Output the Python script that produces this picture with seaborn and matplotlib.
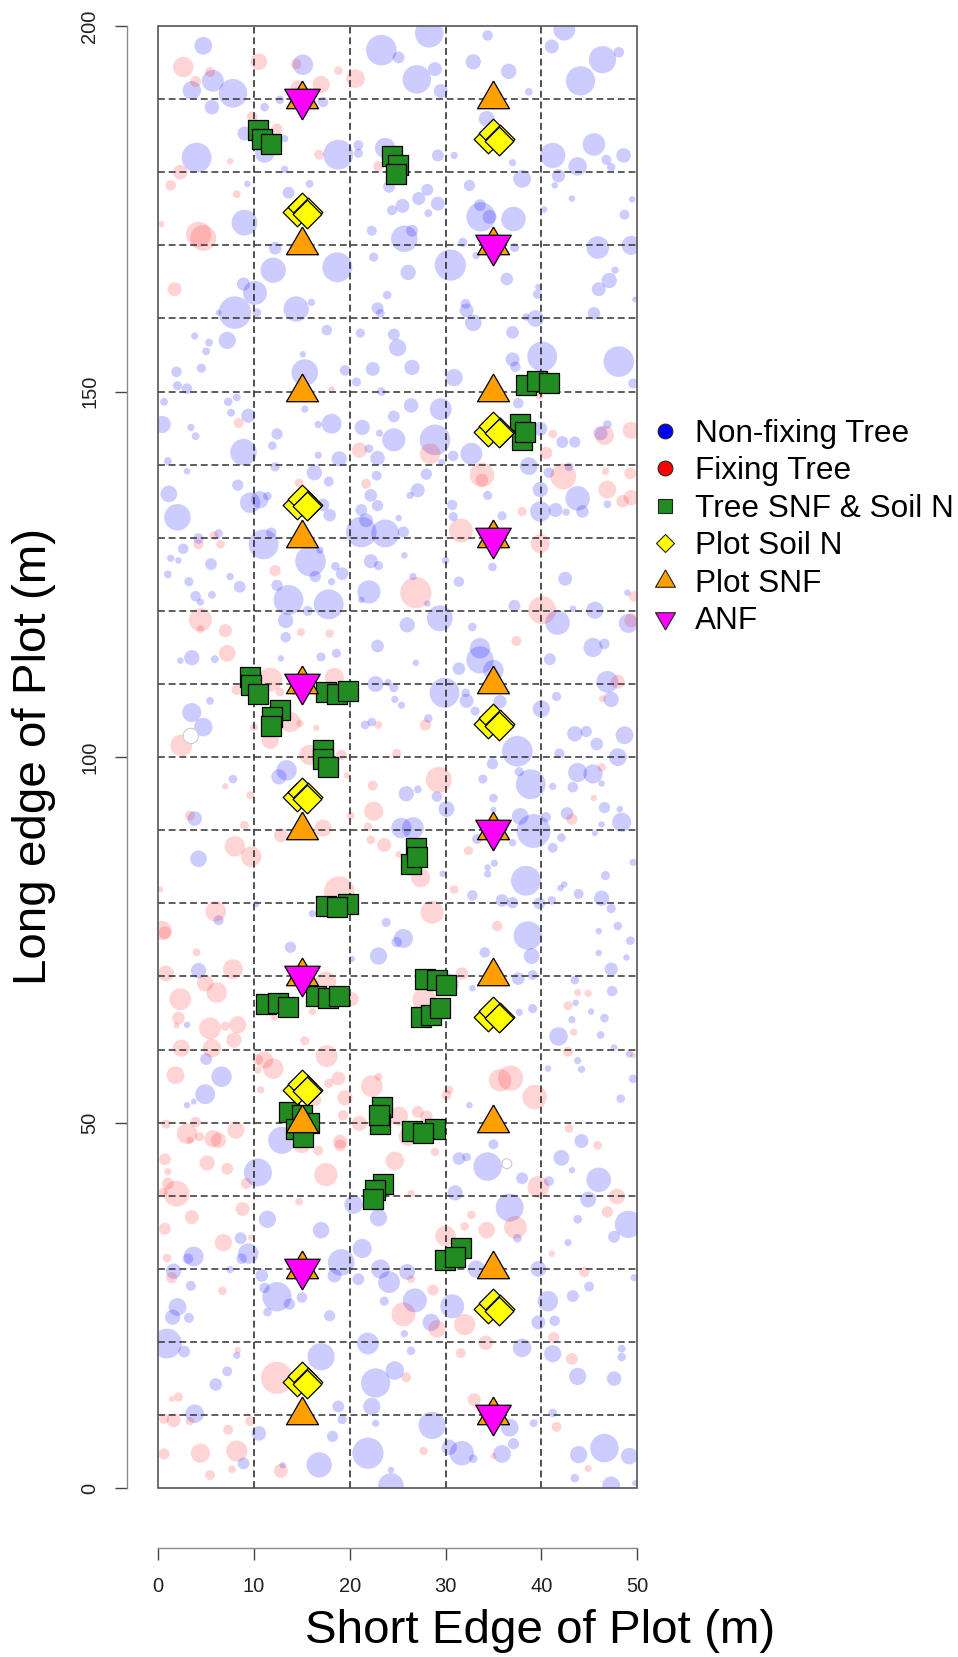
import numpy as np
import pandas as pd
import matplotlib
matplotlib.use("Agg")
import matplotlib.pyplot as plt
from matplotlib.lines import Line2D
from matplotlib.patches import Rectangle
import seaborn as sns

# ====== Background trees: (short edge m, long edge m, radius m) ======
nonfixing_top = [
    (4.7,197.3,.9),(23.3,196.7,1.57),(28.3,199.0,1.46),(25.1,195.7,.59),(34.4,198.7,.52),(41.1,197.2,.7),(42.4,199.5,1.11),(46.4,195.4,1.39),
    (48.1,196.4,.52),(44.1,192.5,1.5),(32.9,195.1,.77),(36.6,193.8,.77),(15.1,194.7,1.04),(5.7,192.5,1.11),(3.5,191.2,.94),(7.8,190.8,1.46),
    (27.0,192.7,1.46),(28.9,194.1,.7),(29.5,191.1,.7),(38.7,191.0,.38),(5.6,188.9,.73),(11.1,188.9,.42),(12.7,189.9,.42),(17.2,189.6,.52),
    (34.3,187.3,.8),(9.0,185.3,.7),(4.0,182.0,1.53),(11.1,182.6,.97),(13.2,184.6,.35),(18.8,182.4,1.53),(20.9,183.7,.49),(20.9,182.6,.45),
    (23.7,183.3,1.04),(29.2,182.3,.59),(30.9,182.3,.35),(37.0,181.3,.35),(41.2,182.3,1.29),(45.5,183.8,1.15),(43.8,180.8,.94),(48.6,182.3,.73),
    (46.8,181.7,.49),(47.3,180.7,.42),(13.2,180.4,.35),(9.3,178.4,.31),(15.8,178.4,.38),(24.1,178.0,.59),(38.0,179.1,.9),(32.5,178.2,.56),
    (41.8,179.5,.66),(41.4,178.2,.31),(13.6,177.2,.59),(28.1,177.6,.59),(27.2,176.4,.66),(29.2,175.7,.7),(25.5,175.4,.7),(24.4,174.8,.49),
    (28.2,174.4,.38),(43.2,176.4,.31),(49.5,176.3,.31),(40.3,174.9,.31),(33.6,175.5,.59),(33.7,173.9,1.5),(34.6,173.9,.7),(37.1,173.6,1.25),
    (48.7,174.2,.49),(9.0,173.1,1.32),(22.3,172.0,.49),(26.5,172.0,.59),(25.7,170.9,1.36),(12.2,169.6,.63),(22.5,168.4,.45),(31.8,170.4,.45),
    (37.2,169.7,.45),(45.9,169.7,1.15),(49.4,170.0,.97),(33.2,168.6,.35),(18.7,167.0,1.53),(12.0,166.6,1.29),(30.5,167.3,1.6),(26.1,166.3,.77),
    (36.4,165.4,.63),(47.7,166.6,.35),(47.1,165.2,.77),(46.0,164.0,.7),(8.9,164.7,.66),(10.1,163.5,1.22),(8.0,160.8,1.67),(6.3,160.8,.28),
    (10.3,160.8,.42),(14.4,161.3,1.29),(16.0,162.2,.35),(23.9,163.2,.42),(22.9,161.4,.59),(23.2,160.7,.42),(32.1,162.0,.49),(32.2,161.1,.7),
    (32.9,159.4,.84),(39.7,164.3,.31),(39.6,163.3,.45),(39.4,160.0,.84),(38.4,160.2,.35),(45.5,160.7,.63),(49.8,162.6,.28),(17.6,158.4,.52),
    (21.1,158.0,.45),(24.6,157.8,.59),(25.0,156.0,.87),(37.0,158.1,.63),(3.8,157.6,.35),(5.3,156.7,.38),(5.0,155.5,.38),(7.2,157.0,.87),
    (15.1,155.1,.31),(40.1,154.8,1.53),(48.1,154.1,1.57),(37.0,154.4,.7),(37.3,153.4,.52),(1.9,152.7,.52),(4.5,153.2,.45),(15.3,152.6,1.36),
    (19.5,152.9,.52),(22.4,153.1,.7),(26.5,153.3,.77),(30.9,151.9,.87),(20.7,151.3,.45),(49.6,151.1,.49),(2.0,150.8,.45),(3.0,150.4,.52),(23.3,150.0,.42),
]
nonfixing_upper = [
    (.6,148.6,.38),(7.3,148.6,.42),(8.2,149.2,.38),(7.6,147.1,.38),(9.4,146.7,.7),(15.3,147.6,.35),(26.4,148.1,.73),(29.5,147.6,1.11),
    (24.6,146.6,.59),(37.6,148.4,.52),(.4,145.5,.87),(3.4,145.1,.35),(3.9,143.9,.38),(12.4,144.2,.56),(11.9,142.6,.42),(16.7,145.5,.35),
    (18.1,145.6,1.01),(21.3,145.1,.77),(23.1,144.3,.35),(24.6,143.4,1.18),(28.9,143.4,1.57),(22.0,142.2,.42),(22.9,140.9,.73),(32.7,141.5,1.11),
    (30.8,141.2,.52),(8.9,141.7,1.36),(16.7,141.3,.35),(18.9,140.8,.77),(1.0,140.5,.38),(29.6,140.3,.35),(39.9,144.9,.7),(42.2,143.1,.59),
    (43.5,143.1,.56),(46.9,145.5,.42),(46.2,144.3,.7),(12.2,139.7,.45),(3.0,139.1,.31),(16.3,138.9,.77),(17.8,137.7,.49),(22.8,138.5,.49),
    (28.0,138.7,.56),(38.7,139.8,.9),(40.8,138.9,.52),(42.9,139.7,.42),(8.3,137.2,.56),(1.1,136.0,.84),(9.6,134.8,1.04),(10.6,135.2,.87),
    (11.4,135.7,.42),(22.2,135.8,.63),(27.1,136.5,.7),(26.3,135.8,.35),(39.9,136.6,.77),(34.4,135.8,.45),(43.8,135.4,1.25),(46.9,134.6,.38),
    (2.0,132.8,1.36),(17.2,134.5,.63),(17.9,133.1,.63),(22.9,134.4,.56),(21.2,133.8,.59),(30.7,134.5,.52),(30.8,132.9,.45),(35.9,133.0,.45),
    (39.9,133.6,1.04),(41.5,133.8,.7),(42.6,133.5,.35),(44.3,133.6,.63),(21.7,132.4,.7),(21.2,130.8,1.57),(23.7,130.6,1.43),(25.1,132.7,.31),
    (25.6,130.8,.56),(6.3,130.6,.42),(11.8,130.7,.52),(4.2,129.9,.52),(11.0,129.1,1.53),(16.9,128.3,.35),(15.9,126.8,1.57),(2.6,128.5,.52),
    (1.3,127.2,.35),(2.1,126.9,.31),(5.5,126.4,.59),(25.7,127.6,.31),(22.2,126.8,.7),(23.0,126.2,.45),(30.0,126.9,.35),(1.0,125.0,.38),
    (18.5,126.1,.42),(19.2,125.1,.63),(7.5,124.7,.35),(34.9,126.0,.42),(3.2,124.0,.45),(8.5,123.3,.59),(16.4,124.7,.56),(18.1,124.0,.35),
    (31.4,124.0,.52),(42.5,124.4,.7),(3.9,122.0,.52),(5.6,122.2,.38),(4.4,121.2,.35),(12.4,123.5,.56),(13.6,121.5,1.53),(17.8,120.9,1.53),
    (22.0,122.6,1.18),(21.2,121.5,.31),(26.6,124.7,.35),(49.0,122.5,.31),(37.2,120.7,.59),(28.1,121.0,.31),(15.6,120.0,.49),(43.3,120.3,.31),
    (45.6,120.1,.87),(29.4,119.0,1.32),(13.3,118.7,.77),(26.0,118.1,.77),(41.7,118.4,1.25),(32.8,117.8,.42),(49.1,118.3,.97),(13.3,116.4,.52),
    (22.9,115.2,.63),(33.6,114.9,1.04),(33.6,113.3,1.39),(35.0,111.9,1.04),(46.6,115.5,.52),(45.4,115.0,.97),(40.9,113.4,.59),(3.5,113.6,.77),
    (2.3,113.2,.31),(5.9,113.4,.38),(12.8,113.5,.31),(17.0,113.7,.45),(18.6,114.2,.45),(26.9,112.9,.31),(31.4,112.1,.63),(22.7,110.0,.8),
    (24.0,110.2,.35),(24.6,109.5,.45),(29.9,108.8,1.53),(32.1,108.8,.42),(32.2,107.7,.7),(35.7,107.6,.66),(33.1,106.3,.45),(25.4,107.1,.35),
    (24.7,107.9,.35),(46.9,110.3,1.11),(47.3,107.9,.77),(41.6,108.3,.45),(40.0,106.6,.87),(5.4,107.7,.38),(3.5,106.1,.97),(4.7,104.1,.94),
    (28.2,105.3,.42),(22.3,104.8,.42),(21.6,104.4,.42),(43.5,103.2,.77),(44.7,103.5,.56),(45.8,101.8,.63),(48.7,103.0,.9),(37.5,100.8,1.57),
    (41.9,100.5,.49),(48.0,100.0,.9),
]
nonfixing_lower = [
    (7.8,97.0,.42),(13.4,98.2,1.04),(12.6,97.3,.77),(34.9,99.1,.56),(37.7,98.0,.45),(38.9,96.3,1.53),(41.2,96.0,.35),(43.3,95.9,.52),
    (43.8,97.9,.97),(45.4,97.7,.97),(46.3,96.4,.31),(33.9,97.0,.45),(25.9,95.0,.77),(27.1,95.6,.38),(29.1,94.6,.52),(35.0,94.4,.42),
    (3.8,91.6,.73),(30.1,92.9,.8),(46.6,93.1,.56),(48.2,92.9,.31),(42.7,92.3,.63),(35.0,92.8,.28),(37.8,91.9,.84),(39.2,89.9,1.74),
    (40.5,91.8,.49),(48.4,91.1,.97),(46.3,90.8,.31),(42.1,89.0,.42),(41.2,87.6,.49),(45.6,89.6,.28),(25.4,90.3,1.04),(26.6,90.3,1.11),
    (33.3,88.8,.49),(37.0,88.3,.35),(4.2,86.1,.84),(35.1,85.5,.35),(34.4,84.9,.31),(34.4,84.0,.35),(29.7,84.05,.31),(38.4,83.1,1.53),
    (46.7,83.8,.45),(49.6,85.6,.35),(42.4,82.6,.31),(42.0,82.1,.31),(43.9,81.3,.49),(32.8,81.1,.52),(46.3,80.7,.77),(35.9,80.4,.63),
    (37.0,80.1,.56),(39.8,80.0,.59),(41.1,80.4,.42),(47.3,79.3,.45),(10.2,79.9,.31),(6.3,77.7,.49),(16.1,78.6,.35),(23.8,77.4,.45),
    (48.0,76.9,.42),(46.0,76.2,.31),(38.6,75.6,1.46),(25.6,75.2,.97),(24.9,74.7,.52),(49.3,74.9,.42),(13.8,74.0,.56),(34.1,73.3,.52),
    (46.0,73.2,.31),(23.0,72.8,.87),(39.0,72.8,.8),(48.9,72.6,.31),(20.2,72.4,.31),(4.2,70.8,.77),(47.3,71.0,.66),(37.6,69.7,.63),
    (39.1,70.2,.49),(43.5,69.5,.42),(30.3,69.0,1.04),(32.8,68.4,.31),(47.4,68.0,.52),(43.6,66.4,.31),(45.2,65.2,.31),(39.1,65.6,.45),
    (37.7,65.1,.35),(43.2,64.1,.35),(46.6,64.3,.42),(3.0,63.4,.31),(46.2,62.0,.38),(41.8,61.8,.94),(47.6,60.3,.31),(5.0,58.7,.59),
    (43.8,58.5,.35),(44.2,57.3,.35),(49.2,59.4,.35),(40.7,57.4,.31),(6.6,56.3,1.04),(49.6,56.0,.42),(4.9,53.9,1.01),(48.3,53.3,.42),
    (32.5,52.4,.31),(3.7,52.9,.28),(3.0,52.4,.31),
]
nonfixing_bottom = [
    (44.2,47.5,.7),(35.0,47.05,.49),(12.9,47.6,1.39),(31.4,45.1,.63),(32.2,45.3,.42),(34.4,44.0,1.46),(42.1,45.2,.8),(43.2,43.5,.31),
    (10.4,43.2,1.43),(46.0,42.2,1.25),(38.0,42.4,.59),(40.8,42.0,.49),(31.0,40.4,.77),(36.7,38.4,1.43),(44.9,39.5,.8),(20.4,38.8,.94),
    (23.0,37.0,.87),(11.4,36.8,.87),(17.0,35.3,.84),(21.3,32.8,.97),(43.8,36.8,.42),(49.1,36.1,1.39),(37.5,34.2,.42),(47.6,34.4,.59),
    (8.6,34.2,.59),(9.4,32.1,1.04),(8.7,31.4,.52),(42.8,33.6,.35),(3.7,31.7,1.01),(3.1,31.4,.52),(19.1,30.9,1.36),(1.6,29.7,.77),
    (7.5,29.9,.35),(10.8,29.1,.63),(18.4,29.1,.7),(20.9,28.6,.59),(23.2,30.0,.97),(24.1,28.2,1.11),(26.0,29.6,.8),(39.7,30.0,.8),
    (33.2,30.0,.87),(3.4,27.7,.49),(49.7,28.8,.35),(45.0,27.6,.49),(15.0,26.1,.52),(12.4,26.2,1.5),(11.1,27.4,.52),(13.7,25.2,.56),
    (11.4,24.1,.42),(26.8,25.7,1.22),(23.6,25.6,.45),(2.0,24.8,.9),(1.5,23.4,.77),(3.2,23.3,.49),(17.9,23.6,.56),(30.7,24.9,1.22),
    (28.5,22.7,.87),(40.7,25.6,1.04),(43.3,26.3,.59),(39.7,22.7,.7),(41.4,22.9,.52),(25.7,21.15,.35),(.9,19.8,1.53),(21.9,19.8,1.11),
    (38.0,19.2,.94),(41.2,18.4,.87),(2.7,18.7,.59),(17.0,18.0,1.39),(26.4,18.8,.42),(48.4,19.1,.38),(48.4,17.95,.42),(8.2,18.2,.35),
    (7.2,16.0,.49),(6.0,14.2,.63),(22.7,14.4,1.5),(24.7,16.1,.94),(43.8,15.3,.87),(47.6,15.0,.73),(3.8,10.2,.94),(18.8,11.2,.59),
    (22.3,11.2,.87),(28.6,8.6,1.39),(19.2,9.4,.45),(22.7,8.9,.35),(41.2,10.3,.42),(39.2,8.9,.38),(36.7,8.3,.9),(10.5,7.5,.73),
    (18.2,7.1,.56),(21.9,4.8,1.6),(30.4,5.6,.77),(31.7,4.8,1.25),(32.9,4.05,.42),(37.1,6.1,.56),(35.9,4.7,.9),(46.6,5.5,1.46),
    (43.9,4.6,.87),(49.2,4.4,.84),(8.9,3.4,.59),(16.8,3.2,1.29),(13.0,3.15,.31),(24.3,2.5,.31),(24.3,.3,1.32),(43.5,1.4,.42),
    (47.3,.4,.9),(49.8,.7,.28),
]
fixing_upper = [
    (2.6,194.4,1.04),(10.5,195.1,.84),(5.4,193.7,.49),(3.9,192.4,.56),(14.4,194.8,.52),(17.0,192.0,.87),(14.6,191.5,.77),(18.8,193.9,.42),
    (20.6,192.8,.94),(9.8,187.6,.52),(12.4,185.9,.56),(7.5,181.5,.31),(16.8,182.4,.49),(23.0,180.8,.52),(2.3,180.0,.73),(1.3,178.2,.52),
    (8.2,177.0,.38),(.3,172.9,.31),(4.2,171.5,1.29),(4.7,171.0,1.32),(1.7,164.0,.7),(18.1,150.3,.31),(39.8,149.5,.42),
    (8.4,145.7,.49),(41.2,144.2,.42),(21.0,142.0,.77),(28.4,141.5,1.04),(40.5,141.6,.63),(46.6,144.0,.97),(49.4,144.7,.87),(33.8,138.6,1.25),
    (33.8,137.9,.63),(42.3,138.4,1.32),(46.7,139.1,.35),(49.3,138.8,.59),(14.7,137.5,.42),(21.7,137.4,.49),(46.9,136.6,.9),(48.5,135.0,.63),
    (49.4,135.5,.77),(38.0,133.6,.45),(31.6,131.0,1.22),(5.8,130.3,.42),(4.2,129.1,.49),(6.5,129.1,.42),(39.9,129.2,.97),(12.2,125.5,.56),
    (26.9,122.5,1.6),(40.1,120.1,1.43),(49.7,122.0,.52),(4.4,118.8,1.18),(4.4,117.5,.38),(7.0,117.3,.66),(14.9,117.1,.38),(17.9,116.9,.42),
    (49.4,118.7,.7),(37.4,115.9,.49),(7.2,114.2,.84),(11.7,110.6,1.22),(8.2,109.2,.52),(18.4,110.9,.97),(48.0,110.3,.7),(46.4,108.0,.35),
    (12.7,108.9,.42),(13.8,104.8,1.04),(14.8,104.6,.35),(10.0,104.1,.38),(16.5,104.0,.31),(23.0,104.4,.38),(27.9,104.4,.56),(2.4,101.6,1.11),
    (11.7,102.3,.87),(15.8,100.3,1.04),(19.1,100.3,.52),(24.9,100.5,.45),
]
fixing_lower = [
    (7.0,96.0,.31),(9.6,94.8,.38),(22.4,96.1,.49),(19.7,97.5,.31),(29.3,96.9,1.32),(3.3,92.0,.49),(20.1,92.0,.38),(22.5,92.6,.97),
    (9.0,90.7,.42),(17.2,90.3,.87),(12.8,89.3,.7),(21.9,90.5,.42),(22.2,88.7,.42),(23.6,88.0,.7),(8.0,87.8,1.04),(9.7,86.4,1.04),
    (43.2,91.5,.56),(45.5,94.4,.31),(32.4,87.2,.45),(25.1,86.7,.31),(27.4,83.5,.97),(18.9,81.6,1.57),(.2,81.9,.28),(30.9,81.9,.42),
    (6.0,78.9,1.04),(28.6,78.8,1.18),(.4,76.3,.97),(.7,76.0,.63),(35.4,76.9,.52),(46.3,98.6,.42),(4.0,73.3,.38),(7.8,71.0,1.01),
    (.8,70.4,.8),(4.9,69.1,.84),(31.7,70.4,.63),(17.5,69.3,1.04),(6.1,67.8,1.04),(2.3,66.9,1.11),(20.2,66.9,.7),(27.8,66.8,1.22),
    (43.8,67.8,.35),(44.9,67.7,.35),(42.8,66.0,.45),(16.1,65.2,.35),(12.1,64.4,.31),(2.1,64.3,.63),(1.9,63.3,.28),(5.4,62.9,1.11),
    (7.0,63.2,.45),(8.3,63.4,.87),(7.9,61.3,.77),(15.3,61.2,.45),(2.4,60.2,.87),(5.6,60.2,.94),(43.4,62.4,.35),(42.8,59.7,.49),
    (49.6,59.2,.28),(11.1,58.6,.87),(10.4,58.65,.52),(12.0,57.4,1.04),(10.4,57.2,.35),(17.6,59.1,1.11),(1.8,56.5,.9),(18.8,56.05,.7),
    (17.8,55.4,.45),(22.3,55.0,1.11),(23.0,56.3,.38),(35.7,55.8,1.15),(36.8,56.1,1.29),(30.4,54.5,.38),(30.1,53.8,.49),(39.3,53.5,1.25),
    (10.7,54.5,.35),(16.4,53.1,.59),(19.5,53.4,.77),(19.3,51.0,.52),(25.1,50.9,.97),(21.0,49.9,.77),(27.1,51.5,.59),(28.0,50.8,.63),
    (.8,49.8,.45),(3.9,50.1,.52),(42.9,49.2,.42),
]
fixing_bottom = [
    (3.0,48.5,1.04),(5.7,47.8,.87),(6.3,47.6,.77),(8.1,49.0,.87),(3.3,47.6,.35),(4.3,48.1,.45),(15.0,47.0,.87),(19.0,47.4,.7),
    (19.0,46.9,.59),(16.7,46.2,.49),(26.1,48.1,.97),(28.9,46.0,.42),(.7,45.0,.59),(1.0,43.3,.35),(5.1,44.5,.77),(7.2,43.7,.59),
    (9.2,41.7,.56),(17.5,42.9,1.18),(24.7,44.8,.94),(1.0,41.7,.59),(1.9,40.3,1.32),(.5,40.5,.45),(26.4,40.3,.35),(45.9,46.9,.42),
    (39.7,41.2,1.11),(47.9,39.9,.8),(14.7,39.2,.38),(8.8,38.2,.7),(3.5,37.1,.7),(32.7,37.4,.42),(.7,35.5,.59),(34.3,35.3,.84),
    (32.0,35.8,.42),(37.3,35.7,1.15),(46.9,37.8,.56),(30.0,34.5,1.04),(6.8,33.6,.87),(9.7,34.3,.31),(.9,31.5,.42),(41.1,32.1,.31),
    (1.4,28.8,.56),(26.4,28.6,.38),(44.5,29.6,.52),(6.7,27.0,.42),(28.7,27.1,.56),(25.6,23.8,1.22),(29.1,21.8,.87),(32.0,22.4,1.08),
    (41.3,20.6,.56),(34.2,19.9,.73),(8.3,18.9,.31),(31.6,18.5,.49),(43.2,17.7,.59),(12.4,15.1,1.64),(25.9,15.2,.49),(2.1,12.5,.45),
    (1.4,12.2,.28),(33.0,12.1,.66),(.6,9.5,.49),(1.6,9.3,.7),(3.3,9.2,.42),(9.6,9.2,.49),(41.6,8.4,.49),(7.3,8.0,.49),
    (.6,4.7,.56),(4.4,4.8,.97),(8.2,5.1,1.08),(27.7,5.1,.42),(12.8,2.4,.7),(7.7,2.6,.38),(5.4,1.8,.49),(44.9,2.7,.35),(35.0,4.4,.28),
]
empty_trees = [(3.4,102.9,.77),(36.4,44.4,.49)]

# ====== Sampling points ======
tree_x = [10.4,10.8,11.8,24.4,25.0,24.8,38.4,39.6,40.8,37.8,38.0,38.3,9.6,9.7,10.4,12.7,11.9,11.8,17.5,18.7,19.8,17.2,17.2,17.7,
          26.9,26.4,27.0,17.5,19.8,18.65,11.3,12.5,13.5,16.5,17.7,18.9,27.9,29.1,30.0,27.4,28.5,29.4,13.7,15.0,15.7,14.4,15.1,
          23.4,23.2,23.0,26.5,28.9,27.7,23.5,22.6,22.4,29.9,31.6,31.0]
tree_y = [185.8,184.6,183.9,182.2,181.0,179.8,150.9,151.4,151.2,145.6,143.4,144.5,110.9,109.8,108.7,106.5,105.5,104.3,108.9,108.7,109.1,100.95,99.7,98.7,
          87.6,85.4,86.4,79.7,79.9,79.5,66.2,66.4,65.8,67.3,67.0,67.4,69.6,69.5,68.8,64.5,64.8,65.7,51.4,51.0,49.9,49.1,48.1,
          52.2,49.8,51.0,48.9,49.1,48.6,41.6,40.8,39.6,31.2,32.8,31.7]

soil_x = [34.45,35.0,35.65,35.55, 14.45,15.0,15.65,15.55, 34.45,35.0,35.65,35.55, 14.45,15.0,15.65,15.55, 34.45,35.0,35.65,35.55,
          14.45,15.0,15.65,15.55, 34.45,35.0,35.65,35.55, 14.45,15.0,15.65,15.55, 34.45,35.0,35.65,35.55, 14.45,15.0,15.65,15.55]
soil_y = [184.5,185.3,184.5,184.3, 174.5,175.3,174.5,174.3, 144.5,145.3,144.5,144.3, 134.5,135.3,134.5,134.3, 104.5,105.3,104.5,104.3,
          94.5,95.3,94.5,94.3, 64.5,65.3,64.5,64.3, 54.5,55.3,54.5,54.3, 24.5,25.3,24.5,24.3, 14.5,15.3,14.5,14.3]

snf_x = [15,35]*10
snf_y = [190,190,170,170,150,150,130,130,110,110,90,90,70,70,50,50,30,30,10,10]

anf_x = [15,35,35,15,35,15,15,35]
anf_y = [190,170,130,110,90,70,30,10]

grid_x = [10,20,30,40]
grid_y = [10,20,30,40,50,60,70,80,90,100,110,120,130,140,150,160,170,180,190]
x_ticks = [0,10,20,30,40,50]
y_ticks = [0,50,100,150,200]
legend_labels = ["Non-fixing Tree","Fixing Tree","Tree SNF & Soil N","Plot Soil N","Plot SNF","ANF"]

# ====== Figure ======
sns.set_style("white")
plt.rcParams["font.family"] = ["Liberation Sans", "DejaVu Sans"]

W, H = 958, 1657
fig = plt.figure(figsize=(W/100, H/100), dpi=100)
left, right, top, bottom = 158.3, 637.0, 26.0, 1488.3
ax = fig.add_axes([left/W, 1-bottom/H, (right-left)/W, (bottom-top)/H])

def tree_table(*bands):
    rows = [t for band in bands for t in band]
    df = pd.DataFrame(rows, columns=["x", "y", "r"])
    # radius in m on the short edge -> marker area in pt^2
    df["s"] = (2*(df["r"]+0.03)*(right-left)/50*0.72)**2
    return df

nonfixing = tree_table(nonfixing_top, nonfixing_upper, nonfixing_lower, nonfixing_bottom)
fixing = tree_table(fixing_upper, fixing_lower, fixing_bottom)
empty = tree_table(empty_trees)

sns.scatterplot(data=nonfixing, x="x", y="y", s=nonfixing["s"].values, color="blue", alpha=0.2, linewidth=0, ax=ax, zorder=1)
sns.scatterplot(data=fixing, x="x", y="y", s=fixing["s"].values, color="red", alpha=0.17, linewidth=0, ax=ax, zorder=1)
ax.scatter(empty["x"], empty["y"], s=empty["s"], facecolor="white", edgecolor="#cccccc", linewidth=0.8, zorder=1)

for g in grid_x:
    ax.axvline(g, color="#222222", lw=1.1, dashes=(4.5, 2.5), zorder=2)
for g in grid_y:
    ax.axhline(g, color="#333333", lw=1.1, dashes=(4.5, 2.5), zorder=2)

tri_up = np.array([(0, 1), (-0.866, -0.5), (0.866, -0.5), (0, 1)])
tri_down = np.array([(0, -1), (-0.866, 0.5), (0.866, 0.5), (0, -1)])

sns.scatterplot(x=tree_x, y=tree_y, marker="s", s=220, color="#228B22", edgecolor="black", linewidth=0.9, ax=ax, zorder=3)
sns.scatterplot(x=soil_x, y=soil_y, marker="D", s=213, color="#FFFF00", edgecolor="black", linewidth=0.9, ax=ax, zorder=4)
sns.scatterplot(x=snf_x, y=snf_y, marker=tri_up, s=706, color="#FF9F00", edgecolor="black", linewidth=0.9, ax=ax, zorder=5)
sns.scatterplot(x=anf_x, y=anf_y, marker=tri_down, s=870, color="#FF00FF", edgecolor="black", linewidth=0.9, ax=ax, zorder=6)

ax.set_xlim(0, 50)
ax.set_ylim(0, 200)

# ====== R style detached axes + box ======
sns.despine(ax=ax, offset={"left": 22.3, "bottom": 42.8})
for side in ["left", "bottom"]:
    ax.spines[side].set_color("#8a8a8a")
    ax.spines[side].set_linewidth(1.0)
ax.add_patch(Rectangle((0, 0), 1, 1, transform=ax.transAxes, fill=False, ec="#555555", lw=1.2, clip_on=False, zorder=7))

ax.set_xticks(x_ticks)
ax.set_yticks(y_ticks)
ax.tick_params(axis="both", direction="out", length=8.8, width=1.0, color="#444444", labelsize=14.5, labelcolor="#222222",
               bottom=True, left=True)
ax.tick_params(axis="x", pad=12.5)
ax.tick_params(axis="y", pad=11.5)
plt.setp(ax.get_yticklabels(), rotation=90, va="center")

ax.set_xlabel("Short Edge of Plot (m)", fontsize=34.2, va="center", ha="center", color="black")
ax.xaxis.set_label_coords(540.5/W, 1-1631/H, transform=fig.transFigure)
ax.set_ylabel("Long edge of Plot (m)", fontsize=34.2, va="center", ha="center", color="black")
ax.yaxis.set_label_coords(34/W, 1-756.5/H, transform=fig.transFigure)

# ====== Legend ======
handles = [
    Line2D([], [], ls="", marker="o", ms=10.6, mfc="#0000FF", mec="#222222", mew=0.8),
    Line2D([], [], ls="", marker="o", ms=10.6, mfc="#FF0000", mec="#222222", mew=0.8),
    Line2D([], [], ls="", marker="s", ms=9.6, mfc="#228B22", mec="#222222", mew=0.8),
    Line2D([], [], ls="", marker="D", ms=9.5, mfc="#FFFF00", mec="#222222", mew=0.8),
    Line2D([], [], ls="", marker=tri_up, ms=16.6, mfc="#FF9F00", mec="#222222", mew=0.8),
    Line2D([], [], ls="", marker=tri_down, ms=16.6, mfc="#FF00FF", mec="#222222", mew=0.8),
]
fig.legend(handles, legend_labels, loc="upper left", bbox_to_anchor=(649/W, 1-419/H), frameon=False, fontsize=22.7,
           handlelength=1.0, handletextpad=0.46, labelspacing=0.236, borderpad=0, borderaxespad=0, labelcolor="black")

fig.savefig("out.png", dpi=100, facecolor="white")
